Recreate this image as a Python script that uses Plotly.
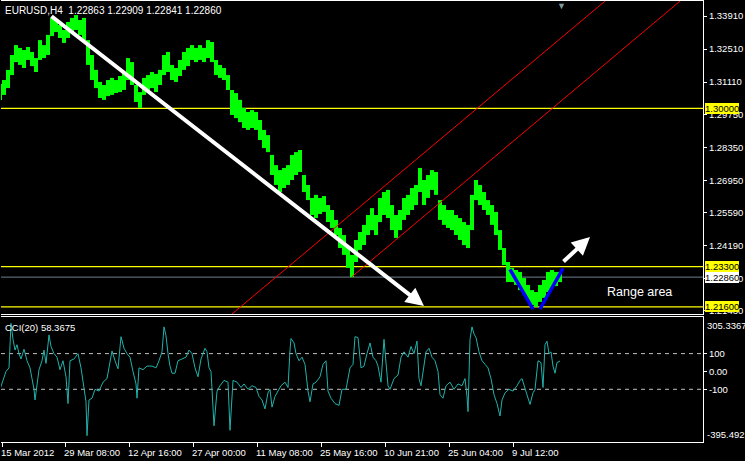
import plotly.graph_objects as go

# ---------------- data (EURUSD H4) ----------------
price_bar = list(range(0, 561, 4))  # H4 bar index (1 unit = 1 bar)
price_high = [
    1.3103, 1.3120, 1.3163, 1.3226, 1.3268, 1.3256, 1.3247, 1.3260, 1.3239, 1.3213,
    1.3289, 1.3268, 1.3311, 1.3383, 1.3374, 1.3353, 1.3332, 1.3366, 1.3383, 1.3395,
    1.3374, 1.3383, 1.3289, 1.3226, 1.3163, 1.3112, 1.3099, 1.3120, 1.3129, 1.3120,
    1.3137, 1.3154, 1.3213, 1.3196, 1.3099, 1.3069, 1.3129, 1.3141, 1.3154, 1.3146,
    1.3163, 1.3226, 1.3239, 1.3184, 1.3171, 1.3205, 1.3239, 1.3256, 1.3268, 1.3256,
    1.3268, 1.3256, 1.3289, 1.3281, 1.3205, 1.3184, 1.3171, 1.3141, 1.3078, 1.3065,
    1.3036, 1.3002, 1.2985, 1.2993, 1.2985, 1.2951, 1.2909, 1.2887, 1.2803, 1.2760,
    1.2739, 1.2748, 1.2760, 1.2803, 1.2815, 1.2824, 1.2718, 1.2676, 1.2621, 1.2634,
    1.2621, 1.2629, 1.2591, 1.2570, 1.2528, 1.2494, 1.2464, 1.2409, 1.2380, 1.2443,
    1.2477, 1.2507, 1.2549, 1.2578, 1.2549, 1.2621, 1.2646, 1.2655, 1.2591, 1.2549,
    1.2570, 1.2621, 1.2634, 1.2663, 1.2676, 1.2748, 1.2697, 1.2718, 1.2739, 1.2731,
    1.2612, 1.2591, 1.2570, 1.2570, 1.2549, 1.2536, 1.2519, 1.2507, 1.2634, 1.2697,
    1.2676, 1.2646, 1.2612, 1.2591, 1.2562, 1.2485, 1.2409, 1.2350, 1.2325, 1.2316,
    1.2308, 1.2282, 1.2253, 1.2231, 1.2223, 1.2253, 1.2274, 1.2308, 1.2316, 1.2308,
    1.2308,
]
price_low = [
    1.3036, 1.3057, 1.3086, 1.3141, 1.3196, 1.3184, 1.3171, 1.3205, 1.3179, 1.3154,
    1.3205, 1.3213, 1.3226, 1.3306, 1.3323, 1.3298, 1.3277, 1.3298, 1.3323, 1.3332,
    1.3311, 1.3289, 1.3184, 1.3120, 1.3086, 1.3044, 1.3036, 1.3052, 1.3057, 1.3065,
    1.3069, 1.3078, 1.3120, 1.3099, 1.3027, 1.3002, 1.3057, 1.3078, 1.3086, 1.3069,
    1.3099, 1.3141, 1.3154, 1.3120, 1.3112, 1.3137, 1.3163, 1.3179, 1.3205, 1.3196,
    1.3205, 1.3196, 1.3213, 1.3196, 1.3141, 1.3129, 1.3120, 1.3078, 1.2972, 1.2959,
    1.2942, 1.2917, 1.2909, 1.2917, 1.2909, 1.2866, 1.2832, 1.2815, 1.2718, 1.2676,
    1.2646, 1.2663, 1.2676, 1.2697, 1.2718, 1.2731, 1.2646, 1.2612, 1.2549, 1.2536,
    1.2553, 1.2562, 1.2519, 1.2494, 1.2464, 1.2409, 1.2380, 1.2325, 1.2286, 1.2350,
    1.2401, 1.2422, 1.2464, 1.2485, 1.2464, 1.2519, 1.2549, 1.2536, 1.2485, 1.2452,
    1.2485, 1.2528, 1.2549, 1.2570, 1.2591, 1.2646, 1.2591, 1.2621, 1.2655, 1.2634,
    1.2528, 1.2507, 1.2494, 1.2485, 1.2464, 1.2443, 1.2422, 1.2409, 1.2485, 1.2612,
    1.2591, 1.2570, 1.2549, 1.2507, 1.2464, 1.2401, 1.2337, 1.2265, 1.2265, 1.2253,
    1.2231, 1.2215, 1.2189, 1.2168, 1.2160, 1.2181, 1.2198, 1.2223, 1.2240, 1.2248,
    1.2265,
]

cci_bar = [0, 3, 6, 9, 11, 13, 15, 17, 19, 21, 24, 27, 30, 32, 34, 35, 37, 39, 42, 44, 46, 49, 51, 54, 57, 60,
           63, 66, 68, 70, 74, 78, 81, 84, 86, 87, 89, 92, 95, 99, 103, 107, 110, 112, 115, 118, 121, 124, 127,
           130, 133, 136, 137, 139, 143, 147, 152, 156, 159, 162, 164, 166, 168, 170, 172, 175, 178, 182, 186,
           189, 192, 195, 198, 201, 205, 207, 209, 211, 214, 217, 220, 224, 228, 230, 233, 237, 241, 244, 248,
           252, 256, 259, 262, 265, 268, 270, 272, 275, 278, 281, 285, 288, 290, 291, 294, 296, 299, 302, 305,
           308, 310, 313, 316, 320, 323, 326, 328, 331, 335, 339, 342, 346, 350, 353, 355, 358, 361, 364, 367,
           370, 373, 376, 378, 381, 384, 386, 388, 390, 394, 398, 401, 404, 408, 411, 414, 417, 419, 421, 424,
           426, 429, 432, 435, 438, 440, 443, 446, 450, 454, 458, 462, 465, 467, 468, 470, 472, 474, 476, 479,
           482, 485, 488, 491, 494, 497, 500, 502, 505, 509, 513, 517, 520, 522, 525, 528, 530, 533, 535, 538,
           541, 543, 545, 547, 549, 551, 553, 555, 557, 560]
cci_val = [-100, -50, 0, 20, 270, 180, 120, 150, 100, 70, 125, 60, 20, -40, -100, -160, -60, 10, 60, 120, 45,
           205, 140, 100, 80, 10, 60, -30, -180, 60, 70, 100, 20, -110, -170, -360, -160, -150, -100, -110, -60,
           -40, 60, 115, 60, 15, 195, 130, 100, 80, 0, -70, -150, 20, 10, 30, 30, 20, 60, 110, 250, 200, 100, 30,
           -10, -10, 60, 70, 80, 120, 100, 20, -30, 70, 130, 110, 20, 0, -305, -110, -80, -50, -60, -330, -50,
           -60, -90, -70, -100, -80, -90, -140, -160, -210, -120, -100, -200, -140, -110, -80, -60, -90, 120, 185,
           160, 100, 60, 80, 40, -110, -170, -70, -60, -30, 40, 60, -110, -150, -180, -190, -100, -100, 20, 40,
           195, 190, 20, 30, 100, 160, 80, 60, 30, -60, 180, 60, -80, -100, -40, -20, 80, 110, 80, 140, 100, 170,
           -40, -80, 30, 110, 130, 80, 60, 0, -130, -150, -80, -60, -100, -70, -80, -40, -140, -225, 180, 250,
           210, 190, 110, 60, 40, 20, -40, -130, -180, -250, -160, -120, -100, -110, -80, -50, -40, -100, -150,
           -185, -120, -100, 60, 50, -90, 150, 170, 100, 110, 30, -10, 50, 58.37]

x_tick_bar = [2, 65, 129, 193, 257, 321, 385, 449, 513]
x_tick_text = ["15 Mar 2012", "29 Mar 08:00", "12 Apr 16:00", "27 Apr 00:00", "11 May 08:00",
               "25 May 16:00", "10 Jun 21:00", "25 Jun 04:00", "9 Jul 12:00"]
price_tick_vals = [1.3391, 1.3251, 1.3111, 1.2975, 1.2835, 1.2695, 1.2559, 1.2419, 1.2279, 1.2143]
price_tick_text = ["1.33910", "1.32510", "1.31110", "1.29750", "1.28350", "1.26950", "1.25590",
                   "1.24190", "1.22790", "1.21430"]

level_prices = [1.30000, 1.23300, 1.21600]
bid_price = 1.22860
cci_levels = [100, -100]
cci_max, cci_min = 305.3367, -395.492
price_min, price_max = 1.21299, 1.34545

# drawn objects (bar index, price)
channel_upper_bar, channel_upper_price = [232, 605], [1.2130, 1.3454]
channel_lower_bar, channel_lower_price = [352, 680], [1.2288, 1.3454]
v_left_bar, v_left_price = [510, 533], [1.2319, 1.2151]
v_right_bar, v_right_price = [540, 563], [1.2151, 1.2323]
arrow_down = dict(tail=(50, 1.3395), tip=(424, 1.2164))
arrow_up = dict(tail=(562, 1.2346), tip=(590, 1.2456))
range_label = (639, 1.2223)
shift_marker_bar = 561

FONT = "Liberation Sans, Arial, sans-serif"
FS = 9.5

# ---------------- figure ----------------
fig = go.Figure()

seg_x, seg_y = [], []
for b, h, l in zip(price_bar, price_high, price_low):
    seg_x += [b, b, None]
    seg_y += [l, h, None]
fig.add_trace(go.Scatter(x=seg_x, y=seg_y, mode="lines", line=dict(color="#00FF00", width=4),
                         xaxis="x", yaxis="y", hoverinfo="skip", showlegend=False))

for bx, py in [(channel_upper_bar, channel_upper_price), (channel_lower_bar, channel_lower_price)]:
    fig.add_trace(go.Scatter(x=bx, y=py, mode="lines", line=dict(color="#FF0000", width=1),
                             xaxis="x", yaxis="y", hoverinfo="skip", showlegend=False))
for bx, py in [(v_left_bar, v_left_price), (v_right_bar, v_right_price)]:
    fig.add_trace(go.Scatter(x=bx, y=py, mode="lines", line=dict(color="#0000FF", width=3.5),
                             xaxis="x", yaxis="y", hoverinfo="skip", showlegend=False))

fig.add_trace(go.Scatter(x=cci_bar, y=cci_val, mode="lines", line=dict(color="#20B2AA", width=1),
                         xaxis="x2", yaxis="y2", hoverinfo="skip", showlegend=False))

shapes = []
for lv in level_prices:
    shapes.append(dict(type="line", xref="x domain", x0=0, x1=1, yref="y", y0=lv, y1=lv,
                       line=dict(color="#FFFF00", width=1.2), layer="below"))
shapes.append(dict(type="line", xref="x domain", x0=0, x1=1, yref="y", y0=bid_price, y1=bid_price,
                   line=dict(color="#708090", width=1), layer="below"))
for lv in cci_levels:
    shapes.append(dict(type="line", xref="x2 domain", x0=0, x1=1, yref="y2", y0=lv, y1=lv,
                       line=dict(color="#C0C0C0", width=1, dash="4px,4px"), layer="below"))

ann = []
white = dict(family=FONT, size=FS, color="white")
ann.append(dict(xref="paper", yref="paper", x=0, y=1, xanchor="left", yanchor="top", xshift=2, yshift=-2,
                text="EURUSD,H4&nbsp; 1.22863 1.22909 1.22841 1.22860", showarrow=False,
                font=dict(family=FONT, size=10, color="white")))
ann.append(dict(xref="paper", yref="paper", x=0, y=0.28345, xanchor="left", yanchor="top", xshift=2, yshift=-3,
                text="CCI(20) 58.3675", showarrow=False, font=white))
for b, t in zip(x_tick_bar, x_tick_text):
    ann.append(dict(xref="x2", yref="paper", x=b, y=0, xanchor="left", yanchor="top", xshift=-3, yshift=-3,
                    text=t, showarrow=False, font=white))
for lv in level_prices:
    ann.append(dict(xref="paper", yref="y", x=1, y=lv, xanchor="left", yanchor="middle", xshift=2,
                    text=f"{lv:.5f}", showarrow=False, bgcolor="#FFFF00", borderpad=0, borderwidth=0,
                    font=dict(family=FONT, size=FS, color="black")))
ann.append(dict(xref="paper", yref="y", x=1, y=bid_price, xanchor="left", yanchor="middle", xshift=2,
                text=f"{bid_price:.5f}", showarrow=False, bgcolor="#FFFFFF", borderpad=0, borderwidth=0,
                font=dict(family=FONT, size=FS, color="black")))
ann.append(dict(xref="paper", yref="y2", x=1, y=cci_max, xanchor="left", yanchor="top", xshift=2, yshift=-1,
                text=f"{cci_max:.4f}", showarrow=False, font=white))
ann.append(dict(xref="paper", yref="y2", x=1, y=cci_min, xanchor="left", yanchor="bottom", xshift=2, yshift=0,
                text=f"{cci_min:.3f}", showarrow=False, font=white))
ann.append(dict(xref="x", yref="y", x=range_label[0], y=range_label[1], text="Range area", showarrow=False,
                font=dict(family=FONT, size=12.5, color="white")))
for a in (arrow_down, arrow_up):
    ann.append(dict(xref="x", yref="y", axref="x", ayref="y", x=a["tip"][0], y=a["tip"][1],
                    ax=a["tail"][0], ay=a["tail"][1], showarrow=True, arrowhead=2, arrowsize=0.9,
                    arrowwidth=4, arrowcolor="white", text=""))
ann.append(dict(xref="x", yref="paper", x=shift_marker_bar, y=1, yanchor="top", yshift=4, text="▼",
                showarrow=False, font=dict(size=9, color="#7f9a9a")))

axis_common = dict(showgrid=False, zeroline=False, linecolor="white", linewidth=1, showline=True)
fig.update_layout(
    width=745, height=461,
    margin=dict(l=1, r=42, t=1, b=19),
    paper_bgcolor="black", plot_bgcolor="black",
    showlegend=False,
    shapes=shapes, annotations=ann,
    xaxis=dict(domain=[0, 1], range=[1, 703], anchor="y", mirror=True, showticklabels=False, ticks="",
               **axis_common),
    yaxis=dict(domain=[0.29025, 1], range=[price_min, price_max], side="right", anchor="x",
               tickvals=price_tick_vals, ticktext=price_tick_text, ticks="outside", ticklen=3,
               tickcolor="white", tickfont=white, **axis_common),
    xaxis2=dict(domain=[0, 1], range=[1, 703], anchor="y2", mirror=True, showticklabels=False,
                ticks="outside", ticklen=4, tickcolor="white", tickvals=x_tick_bar, **axis_common),
    yaxis2=dict(domain=[0, 0.28345], range=[cci_min, cci_max], side="right", anchor="x2",
                tickvals=[100, 0, -100], ticktext=["100", "0.00", "-100"], ticks="outside", ticklen=3,
                tickcolor="white", tickfont=white, **axis_common),
)

fig.write_html("out.html", config={"displayModeBar": False},
               post_script="document.body.style.margin='0';document.body.style.background='black';")
